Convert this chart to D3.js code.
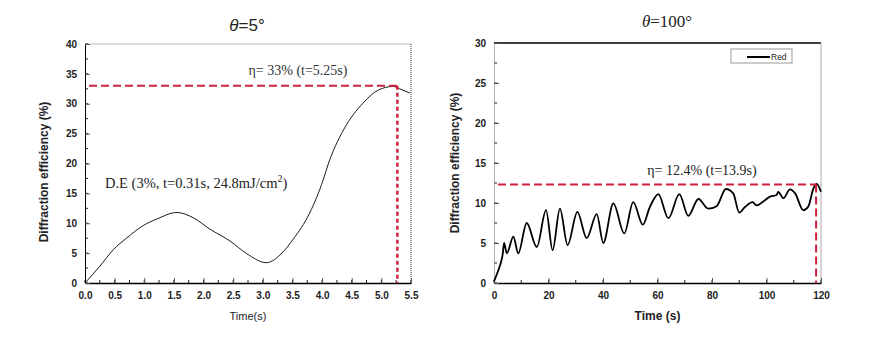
<!DOCTYPE html>
<html><head><meta charset="utf-8">
<script src="https://cdn.jsdelivr.net/npm/d3@7"></script>
<style>body{margin:0;background:#fff}svg{display:block}</style>
</head><body>
<svg id="c" width="883" height="340"></svg>
<script>
// ---- Left panel data (theta = 5°) ----
const leftTime = [0, 0.25, 0.48, 0.70, 0.98, 1.21, 1.55, 1.83, 2.11, 2.45, 2.73, 3.06, 3.34, 3.51, 3.79, 4.02, 4.10, 4.36, 4.69, 4.95, 5.20, 5.31, 5.48];
const leftDE   = [0, 2.8, 5.6, 7.5, 9.6, 10.7, 11.8, 10.9, 9.0, 7.0, 4.9, 3.4, 5.2, 7.3, 11.7, 17.3, 19.8, 25.6, 30.1, 32.3, 32.9, 32.5, 31.8];
const leftPeak = {t: 5.27, v: 33};
const leftXTicks = [0, 0.5, 1, 1.5, 2, 2.5, 3, 3.5, 4, 4.5, 5, 5.5];
const leftYTicks = [0, 5, 10, 15, 20, 25, 30, 35, 40];

// ---- Right panel data (theta = 100°) ----
const rightTime = [0, 1.6, 2.4, 3.2, 3.7, 4.7, 7.1, 8.9, 12.0, 15.7, 19.1, 21.5, 24.2, 27.0, 30.6, 34.0, 37.7, 40.1, 43.8, 47.8, 51.1, 54.6, 57.2, 60.3, 64.0, 68.0, 71.3, 75.0, 78.6, 81.7, 85.1, 87.8, 90.0, 92.1, 94.9, 96.4, 98.8, 101.3, 103.7, 104.3, 106.2, 108.6, 110.5, 113.5, 115.4, 117.2, 118.4, 120];
const rightDE   = [0.2, 1.6, 2.4, 3.6, 5.0, 3.7, 5.8, 3.7, 7.5, 4.5, 9.1, 4.1, 9.3, 4.75, 8.9, 5.6, 8.6, 5.0, 9.95, 6.2, 10.1, 7.3, 9.5, 11.1, 8.1, 11.1, 8.4, 10.5, 9.3, 9.6, 11.75, 11.2, 8.8, 9.5, 10.1, 9.7, 10.2, 10.8, 11.0, 11.4, 10.6, 11.7, 11.2, 9.1, 9.6, 11.8, 12.4, 11.4];
const rightPeak = {t: 118.2, v: 12.3};
const rightXTicks = [0, 20, 40, 60, 80, 100, 120];
const rightYTicks = [0, 5, 10, 15, 20, 25, 30];

const svg = d3.select("#c");
const serif = "'Liberation Serif','Times New Roman',serif";
const sans = "'Liberation Sans',Arial,sans-serif";

function panel(o) {
  const x = d3.scaleLinear().domain(o.xDomain).range([o.x0, o.x1]);
  const y = d3.scaleLinear().domain(o.yDomain).range([o.y1, o.y0]);
  const g = svg.append("g");

  // frame
  g.append("line").attr("x1", o.x0).attr("x2", o.x1).attr("y1", o.y0).attr("y2", o.y0)
    .attr("stroke", o.topColor).attr("stroke-width", o.topWidth);
  g.append("line").attr("x1", o.x1).attr("x2", o.x1).attr("y1", o.y0).attr("y2", o.y1)
    .attr("stroke", o.rightColor).attr("stroke-width", 1).attr("stroke-dasharray", o.rightDash);

  // minor ticks
  const xMinor = d3.range(o.xDomain[0], o.xDomain[1] + 1e-9, o.xMinor);
  const yMinor = d3.range(o.yDomain[0], o.yDomain[1] + 1e-9, o.yMinor);
  g.selectAll(".xm").data(xMinor).join("line")
    .attr("x1", d => x(d)).attr("x2", d => x(d)).attr("y1", o.y1).attr("y2", o.y1 - 3)
    .attr("stroke", "#222").attr("stroke-width", 1);
  g.selectAll(".ym").data(yMinor).join("line")
    .attr("x1", o.x0).attr("x2", o.x0 + 3).attr("y1", d => y(d)).attr("y2", d => y(d))
    .attr("stroke", "#222").attr("stroke-width", 1);

  // axes
  const xa = g.append("g").attr("transform", `translate(0,${o.y1})`)
    .call(d3.axisBottom(x).tickValues(o.xTicks).tickSizeInner(-5).tickSizeOuter(0).tickPadding(9).tickFormat(o.xFmt));
  const ya = g.append("g").attr("transform", `translate(${o.x0},0)`)
    .call(d3.axisLeft(y).tickValues(o.yTicks).tickSizeInner(-5).tickSizeOuter(0).tickPadding(8).tickFormat(d3.format("d")));
  [xa, ya].forEach(a => {
    a.selectAll("text").attr("font-family", sans).attr("font-weight", "bold").attr("font-size", 10).attr("fill", "#222");
    a.selectAll(".tick line").attr("stroke", "#555");
  });
  xa.select(".domain").attr("stroke", "#000").attr("stroke-width", 1.3);
  ya.select(".domain").attr("stroke", o.leftColor).attr("stroke-width", 1).attr("stroke-dasharray", o.leftDash);

  // curve
  const line = d3.line().x((d, i) => x(o.t[i])).y((d, i) => y(o.v[i])).curve(d3.curveMonotoneX);
  g.append("path").datum(o.v).attr("d", line).attr("fill", "none")
    .attr("stroke", "#000").attr("stroke-width", o.curveWidth).attr("stroke-linejoin", "round");

  // red dashed guides
  g.append("line").attr("x1", o.x0 + 4).attr("x2", x(o.peak.t)).attr("y1", y(o.peak.v)).attr("y2", y(o.peak.v))
    .attr("stroke", "#d0213a").attr("stroke-width", 2).attr("stroke-dasharray", "8,4");
  g.append("line").attr("x1", x(o.peak.t)).attr("x2", x(o.peak.t)).attr("y1", y(o.peak.v)).attr("y2", o.y1)
    .attr("stroke", "#d0213a").attr("stroke-width", o.vWidth).attr("stroke-dasharray", o.vDash);

  // labels
  svg.append("text").attr("x", (o.x0 + o.x1) / 2).attr("y", 320).attr("text-anchor", "middle")
    .attr("font-family", sans).attr("font-size", o.xLabelSize).attr("font-weight", o.xLabelWeight)
    .attr("fill", "#222").text(o.xLabel);
  svg.append("text").attr("transform", `translate(${o.yLabelX},${o.yLabelY}) rotate(-90)`)
    .attr("text-anchor", "middle").attr("font-family", sans).attr("font-size", 12).attr("font-weight", "bold")
    .attr("fill", "#222").text("Diffraction efficiency (%)");
  return {x, y};
}

panel({
  x0: 85, x1: 411, y0: 44, y1: 283, xDomain: [0, 5.5], yDomain: [0, 40],
  xTicks: leftXTicks, yTicks: leftYTicks, xMinor: 0.25, yMinor: 2.5,
  xFmt: d3.format(".1f"), t: leftTime, v: leftDE, peak: leftPeak,
  topColor: "#bbb", topWidth: 1, rightColor: "#333", rightDash: "1,1",
  leftColor: "#000", leftDash: null, curveWidth: 0.9, vWidth: 2.5, vDash: "4,3",
  xLabel: "Time(s)", xLabelSize: 11, xLabelWeight: "normal", yLabelX: 48, yLabelY: 172
});
panel({
  x0: 494, x1: 821, y0: 43, y1: 283, xDomain: [0, 120], yDomain: [0, 30],
  xTicks: rightXTicks, yTicks: rightYTicks, xMinor: 10, yMinor: 2.5,
  xFmt: d3.format("d"), t: rightTime, v: rightDE, peak: rightPeak,
  topColor: "#000", topWidth: 1.5, rightColor: "#aaa", rightDash: null,
  leftColor: "#666", leftDash: "1,1", curveWidth: 1.8, vWidth: 2, vDash: "8,4",
  xLabel: "Time (s)", xLabelSize: 12, xLabelWeight: "bold", yLabelX: 459, yLabelY: 163
});

// titles
const t1 = svg.append("text").attr("x", 247).attr("y", 31).attr("text-anchor", "middle")
  .attr("font-family", sans).attr("font-size", 17).attr("fill", "#222");
t1.append("tspan").attr("font-style", "italic").text("θ");
t1.append("tspan").text("=5°");
const t2 = svg.append("text").attr("x", 667).attr("y", 27).attr("text-anchor", "middle")
  .attr("font-family", serif).attr("font-size", 17).attr("fill", "#222");
t2.append("tspan").attr("font-style", "italic").text("θ");
t2.append("tspan").text("=100°");

// annotations
svg.append("text").attr("x", 298).attr("y", 75).attr("text-anchor", "middle")
  .attr("font-family", serif).attr("font-size", 14).attr("fill", "#333").text("η= 33% (t=5.25s)");
const de = svg.append("text").attr("x", 105).attr("y", 188)
  .attr("font-family", serif).attr("font-size", 14.5).attr("fill", "#222");
de.append("tspan").text("D.E (3%, t=0.31s, 24.8mJ/cm");
de.append("tspan").attr("dy", -6).attr("font-size", 10).text("2");
de.append("tspan").attr("dy", 6).text(")");
svg.append("text").attr("x", 702).attr("y", 175).attr("text-anchor", "middle")
  .attr("font-family", serif).attr("font-size", 14).attr("fill", "#222").text("η= 12.4% (t=13.9s)");

// legend
svg.append("rect").attr("x", 731).attr("y", 49).attr("width", 61).attr("height", 14)
  .attr("fill", "#fff").attr("stroke", "#999").attr("stroke-width", 1);
svg.append("line").attr("x1", 747).attr("x2", 770).attr("y1", 57).attr("y2", 57)
  .attr("stroke", "#000").attr("stroke-width", 2);
svg.append("text").attr("x", 771).attr("y", 60).attr("font-family", sans).attr("font-size", 8.5)
  .attr("fill", "#222").text("Red");
</script>
</body></html>
